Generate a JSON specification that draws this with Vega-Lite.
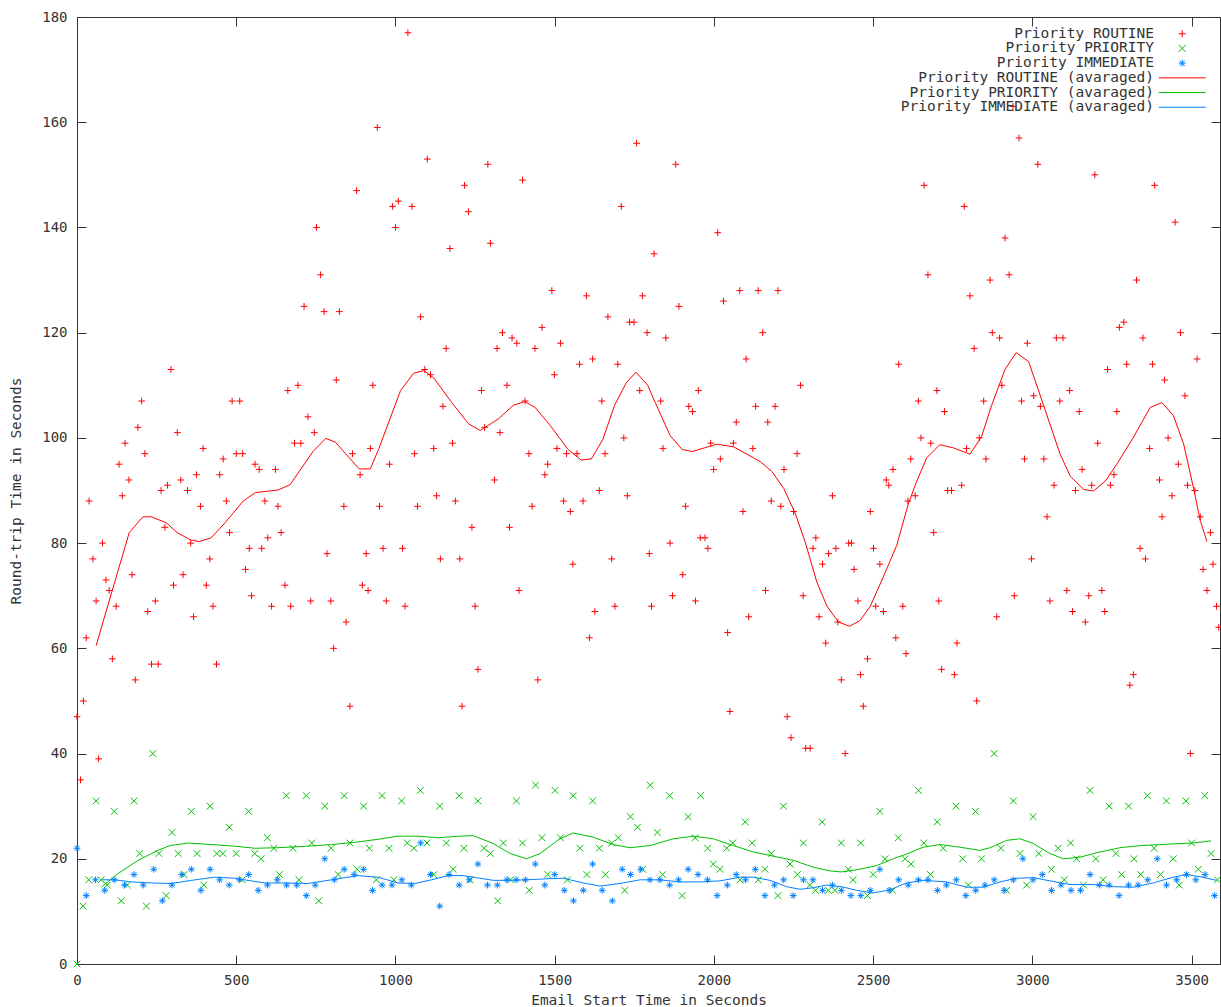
{
"$schema": "https://vega.github.io/schema/vega-lite/v6.json",
"width": 1143, "height": 947,
"autosize": {"type": "none"},
"padding": {"left": 77, "top": 17, "right": 1, "bottom": 43},
"background": "white",
"config": {
  "view": {"stroke": null},
  "font": "DejaVu Sans Mono",
  "axis": {"grid": false, "domainColor": "#333", "tickColor": "#333", "tickSize": -9, "tickWidth": 1, "labelFont": "DejaVu Sans Mono", "labelFontSize": 14, "labelColor": "#333", "titleFont": "DejaVu Sans Mono", "titleFontSize": 14.5, "titleFontWeight": "normal", "titleColor": "#333", "labelFlush": false, "labelOverlap": false, "format": "d"},
  "legend": {"labelFont": "DejaVu Sans Mono", "labelFontSize": 14.5, "labelColor": "#333", "labelAlign": "right", "labelOffset": -35.5, "symbolSize": 49, "symbolStrokeWidth": 1, "rowPadding": -0.3, "padding": 0, "labelLimit": 500}
},
"datasets": {
"routine": [
{"t":0,"rtt":47},{"t":11,"rtt":35},{"t":20,"rtt":50},{"t":29,"rtt":62},{"t":38,"rtt":88},{"t":50,"rtt":77},{"t":60,"rtt":69},{"t":68,"rtt":39},{"t":80,"rtt":80},{"t":91,"rtt":73},{"t":101,"rtt":71},{"t":111,"rtt":58},{"t":123,"rtt":68},{"t":132,"rtt":95},{"t":142,"rtt":89},{"t":151,"rtt":99},{"t":163,"rtt":92},{"t":173,"rtt":74},{"t":183,"rtt":54},{"t":191,"rtt":102},{"t":203,"rtt":107},{"t":213,"rtt":97},{"t":222,"rtt":67},{"t":234,"rtt":57},{"t":246,"rtt":69},{"t":255,"rtt":57},{"t":264,"rtt":90},{"t":276,"rtt":83},{"t":284,"rtt":91},{"t":295,"rtt":113},{"t":303,"rtt":72},{"t":315,"rtt":101},{"t":326,"rtt":92},{"t":333,"rtt":74},{"t":347,"rtt":90},{"t":357,"rtt":80},{"t":366,"rtt":66},{"t":375,"rtt":93},{"t":388,"rtt":87},{"t":396,"rtt":98},{"t":406,"rtt":72},{"t":417,"rtt":77},{"t":427,"rtt":68},{"t":438,"rtt":57},{"t":448,"rtt":93},{"t":459,"rtt":96},{"t":469,"rtt":88},{"t":479,"rtt":82},{"t":487,"rtt":107},{"t":500,"rtt":97},{"t":511,"rtt":107},{"t":520,"rtt":97},{"t":529,"rtt":75},{"t":541,"rtt":79},{"t":548,"rtt":70},{"t":559,"rtt":95},{"t":572,"rtt":94},{"t":580,"rtt":79},{"t":590,"rtt":88},{"t":599,"rtt":81},{"t":611,"rtt":68},{"t":623,"rtt":94},{"t":631,"rtt":87},{"t":641,"rtt":82},{"t":653,"rtt":72},{"t":662,"rtt":109},{"t":671,"rtt":68},{"t":683,"rtt":99},{"t":694,"rtt":110},{"t":703,"rtt":99},{"t":713,"rtt":125},{"t":725,"rtt":104},{"t":734,"rtt":69},{"t":745,"rtt":101},{"t":752,"rtt":140},{"t":765,"rtt":131},{"t":776,"rtt":124},{"t":785,"rtt":78},{"t":797,"rtt":69},{"t":806,"rtt":60},{"t":814,"rtt":111},{"t":824,"rtt":124},{"t":838,"rtt":87},{"t":845,"rtt":65},{"t":857,"rtt":49},{"t":865,"rtt":97},{"t":878,"rtt":147},{"t":889,"rtt":93},{"t":896,"rtt":72},{"t":908,"rtt":78},{"t":914,"rtt":71},{"t":921,"rtt":98},{"t":929,"rtt":110},
{"t":943,"rtt":159},{"t":950,"rtt":87},{"t":961,"rtt":79},{"t":971,"rtt":69},{"t":981,"rtt":95},{"t":991,"rtt":144},{"t":1000,"rtt":140},{"t":1009,"rtt":145},{"t":1022,"rtt":79},{"t":1030,"rtt":68},{"t":1039,"rtt":177},{"t":1052,"rtt":144},{"t":1060,"rtt":97},{"t":1069,"rtt":87},{"t":1079,"rtt":123},{"t":1092,"rtt":113},{"t":1100,"rtt":153},{"t":1110,"rtt":112},{"t":1120,"rtt":98},{"t":1129,"rtt":89},{"t":1141,"rtt":77},{"t":1149,"rtt":106},{"t":1159,"rtt":117},{"t":1171,"rtt":136},{"t":1179,"rtt":99},{"t":1188,"rtt":88},{"t":1202,"rtt":77},{"t":1209,"rtt":49},{"t":1217,"rtt":148},{"t":1229,"rtt":143},{"t":1240,"rtt":83},{"t":1250,"rtt":68},{"t":1259,"rtt":56},{"t":1270,"rtt":109},{"t":1280,"rtt":102},{"t":1290,"rtt":152},{"t":1298,"rtt":137},{"t":1311,"rtt":92},{"t":1319,"rtt":117},{"t":1328,"rtt":101},{"t":1336,"rtt":120},{"t":1350,"rtt":110},{"t":1358,"rtt":83},{"t":1366,"rtt":119},{"t":1381,"rtt":118},{"t":1388,"rtt":71},{"t":1399,"rtt":149},{"t":1407,"rtt":107},{"t":1419,"rtt":97},{"t":1429,"rtt":87},{"t":1438,"rtt":117},{"t":1447,"rtt":54},{"t":1460,"rtt":121},{"t":1469,"rtt":93},{"t":1478,"rtt":95},{"t":1491,"rtt":128},{"t":1499,"rtt":112},{"t":1507,"rtt":98},{"t":1518,"rtt":118},{"t":1528,"rtt":88},{"t":1537,"rtt":97},{"t":1549,"rtt":86},{"t":1557,"rtt":76},{"t":1570,"rtt":97},{"t":1578,"rtt":114},{"t":1589,"rtt":88},{"t":1600,"rtt":127},{"t":1609,"rtt":62},{"t":1619,"rtt":115},{"t":1626,"rtt":67},{"t":1640,"rtt":90},{"t":1648,"rtt":107},{"t":1658,"rtt":97},{"t":1667,"rtt":123},{"t":1679,"rtt":77},{"t":1689,"rtt":68},{"t":1698,"rtt":114},{"t":1709,"rtt":144},{"t":1717,"rtt":100},{"t":1728,"rtt":89},{"t":1735,"rtt":122},{"t":1749,"rtt":122},{"t":1757,"rtt":156},{"t":1767,"rtt":109},{"t":1776,"rtt":127},{"t":1790,"rtt":120},{"t":1797,"rtt":78},{"t":1804,"rtt":68},{"t":1812,"rtt":135},
{"t":1833,"rtt":107},{"t":1840,"rtt":98},{"t":1849,"rtt":119},{"t":1862,"rtt":80},{"t":1870,"rtt":70},{"t":1880,"rtt":152},{"t":1890,"rtt":125},{"t":1902,"rtt":74},{"t":1911,"rtt":87},{"t":1921,"rtt":106},{"t":1933,"rtt":105},{"t":1942,"rtt":69},{"t":1951,"rtt":109},{"t":1957,"rtt":81},{"t":1972,"rtt":81},{"t":1981,"rtt":79},{"t":1990,"rtt":99},{"t":1999,"rtt":94},{"t":2012,"rtt":139},{"t":2020,"rtt":96},{"t":2030,"rtt":126},{"t":2043,"rtt":63},{"t":2050,"rtt":48},{"t":2061,"rtt":99},{"t":2070,"rtt":103},{"t":2081,"rtt":128},{"t":2091,"rtt":86},{"t":2101,"rtt":115},{"t":2109,"rtt":66},{"t":2122,"rtt":98},{"t":2131,"rtt":106},{"t":2139,"rtt":128},{"t":2153,"rtt":120},{"t":2162,"rtt":71},{"t":2169,"rtt":103},{"t":2180,"rtt":88},{"t":2192,"rtt":106},{"t":2201,"rtt":128},{"t":2210,"rtt":87},{"t":2220,"rtt":94},{"t":2230,"rtt":47},{"t":2242,"rtt":43},{"t":2250,"rtt":86},{"t":2261,"rtt":97},{"t":2272,"rtt":110},{"t":2280,"rtt":70},{"t":2288,"rtt":41},{"t":2302,"rtt":41},{"t":2311,"rtt":79},{"t":2320,"rtt":81},{"t":2330,"rtt":66},{"t":2341,"rtt":76},{"t":2351,"rtt":61},{"t":2360,"rtt":78},{"t":2372,"rtt":89},{"t":2383,"rtt":79},{"t":2389,"rtt":65},{"t":2400,"rtt":54},{"t":2412,"rtt":40},{"t":2423,"rtt":80},{"t":2432,"rtt":80},{"t":2440,"rtt":75},{"t":2452,"rtt":69},{"t":2460,"rtt":55},{"t":2469,"rtt":49},{"t":2482,"rtt":58},{"t":2491,"rtt":86},{"t":2501,"rtt":79},{"t":2508,"rtt":68},{"t":2521,"rtt":76},{"t":2532,"rtt":67},{"t":2541,"rtt":92},{"t":2549,"rtt":91},{"t":2562,"rtt":94},{"t":2571,"rtt":62},{"t":2580,"rtt":114},{"t":2593,"rtt":68},{"t":2603,"rtt":59},{"t":2609,"rtt":88},{"t":2618,"rtt":96},{"t":2632,"rtt":89},{"t":2642,"rtt":107},{"t":2650,"rtt":100},{"t":2660,"rtt":148},{"t":2672,"rtt":131},{"t":2681,"rtt":99},{"t":2690,"rtt":82},{"t":2700,"rtt":109},{"t":2706,"rtt":69},
{"t":2715,"rtt":56},{"t":2724,"rtt":105},{"t":2734,"rtt":90},{"t":2746,"rtt":90},{"t":2755,"rtt":55},{"t":2763,"rtt":61},{"t":2778,"rtt":91},{"t":2786,"rtt":144},{"t":2793,"rtt":98},{"t":2804,"rtt":127},{"t":2817,"rtt":117},{"t":2825,"rtt":50},{"t":2833,"rtt":100},{"t":2847,"rtt":107},{"t":2854,"rtt":96},{"t":2867,"rtt":130},{"t":2874,"rtt":120},{"t":2888,"rtt":66},{"t":2897,"rtt":119},{"t":2904,"rtt":110},{"t":2914,"rtt":138},{"t":2927,"rtt":131},{"t":2939,"rtt":163},{"t":2943,"rtt":70},{"t":2958,"rtt":157},{"t":2966,"rtt":107},{"t":2975,"rtt":96},{"t":2984,"rtt":118},{"t":2997,"rtt":77},{"t":3004,"rtt":108},{"t":3017,"rtt":152},{"t":3025,"rtt":106},{"t":3036,"rtt":96},{"t":3046,"rtt":85},{"t":3055,"rtt":69},{"t":3068,"rtt":91},{"t":3075,"rtt":119},{"t":3086,"rtt":107},{"t":3096,"rtt":119},{"t":3108,"rtt":71},{"t":3117,"rtt":109},{"t":3126,"rtt":67},{"t":3135,"rtt":90},{"t":3147,"rtt":105},{"t":3156,"rtt":94},{"t":3166,"rtt":65},{"t":3177,"rtt":70},{"t":3186,"rtt":91},{"t":3196,"rtt":150},{"t":3205,"rtt":99},{"t":3218,"rtt":71},{"t":3227,"rtt":67},{"t":3236,"rtt":113},{"t":3245,"rtt":91},{"t":3256,"rtt":93},{"t":3265,"rtt":105},{"t":3273,"rtt":121},{"t":3287,"rtt":122},{"t":3296,"rtt":114},{"t":3306,"rtt":53},{"t":3317,"rtt":55},{"t":3327,"rtt":130},{"t":3338,"rtt":79},{"t":3347,"rtt":119},{"t":3355,"rtt":77},{"t":3368,"rtt":98},{"t":3377,"rtt":114},{"t":3384,"rtt":148},{"t":3399,"rtt":92},{"t":3407,"rtt":85},{"t":3415,"rtt":111},{"t":3426,"rtt":100},{"t":3438,"rtt":89},{"t":3448,"rtt":141},{"t":3458,"rtt":95},{"t":3465,"rtt":120},{"t":3479,"rtt":108},{"t":3487,"rtt":91},{"t":3496,"rtt":40},{"t":3510,"rtt":90},{"t":3517,"rtt":115},{"t":3527,"rtt":85},{"t":3536,"rtt":75},{"t":3548,"rtt":71},{"t":3559,"rtt":82},{"t":3567,"rtt":76},{"t":3578,"rtt":68},{"t":3585,"rtt":64}
],
"priority": [
{"t":0,"rtt":0},{"t":19,"rtt":11},{"t":37,"rtt":16},{"t":60,"rtt":31},{"t":76,"rtt":16},{"t":95,"rtt":15},{"t":117,"rtt":29},{"t":139,"rtt":12},{"t":158,"rtt":15},{"t":179,"rtt":31},{"t":197,"rtt":21},{"t":218,"rtt":11},{"t":238,"rtt":40},{"t":257,"rtt":21},{"t":280,"rtt":13},{"t":298,"rtt":25},{"t":318,"rtt":21},{"t":336,"rtt":17},{"t":359,"rtt":29},{"t":377,"rtt":21},{"t":398,"rtt":15},{"t":418,"rtt":30},{"t":439,"rtt":21},{"t":458,"rtt":21},{"t":478,"rtt":26},{"t":500,"rtt":21},{"t":519,"rtt":16},{"t":539,"rtt":29},{"t":558,"rtt":21},{"t":578,"rtt":20},{"t":598,"rtt":24},{"t":618,"rtt":22},{"t":636,"rtt":17},{"t":657,"rtt":32},{"t":678,"rtt":22},{"t":697,"rtt":16},{"t":720,"rtt":32},{"t":737,"rtt":23},{"t":759,"rtt":12},{"t":778,"rtt":30},{"t":798,"rtt":22},{"t":820,"rtt":17},{"t":839,"rtt":32},{"t":857,"rtt":23},{"t":880,"rtt":18},{"t":900,"rtt":30},{"t":918,"rtt":22},{"t":940,"rtt":16},{"t":958,"rtt":32},{"t":980,"rtt":22},{"t":995,"rtt":16},{"t":1019,"rtt":31},{"t":1037,"rtt":23},{"t":1058,"rtt":22},{"t":1078,"rtt":33},{"t":1099,"rtt":23},{"t":1120,"rtt":17},{"t":1139,"rtt":30},{"t":1160,"rtt":23},{"t":1181,"rtt":18},{"t":1200,"rtt":32},{"t":1215,"rtt":22},
{"t":1234,"rtt":16},{"t":1259,"rtt":31},{"t":1278,"rtt":22},{"t":1298,"rtt":21},{"t":1321,"rtt":12},{"t":1339,"rtt":23},{"t":1361,"rtt":16},{"t":1380,"rtt":31},{"t":1399,"rtt":23},{"t":1420,"rtt":14},{"t":1440,"rtt":34},{"t":1460,"rtt":24},{"t":1478,"rtt":17},{"t":1501,"rtt":33},{"t":1518,"rtt":24},{"t":1540,"rtt":16},{"t":1558,"rtt":32},{"t":1579,"rtt":22},{"t":1601,"rtt":17},{"t":1619,"rtt":31},{"t":1640,"rtt":22},{"t":1659,"rtt":17},{"t":1679,"rtt":23},{"t":1700,"rtt":24},{"t":1720,"rtt":14},{"t":1738,"rtt":28},{"t":1760,"rtt":26},{"t":1776,"rtt":18},{"t":1800,"rtt":34},{"t":1822,"rtt":25},{"t":1839,"rtt":17},{"t":1861,"rtt":32},{"t":1900,"rtt":13},{"t":1919,"rtt":28},{"t":1941,"rtt":24},{"t":1958,"rtt":32},{"t":1980,"rtt":22},{"t":1998,"rtt":19},{"t":2019,"rtt":18},{"t":2040,"rtt":22},{"t":2059,"rtt":23},{"t":2082,"rtt":16},{"t":2098,"rtt":27},{"t":2120,"rtt":23},{"t":2139,"rtt":16},{"t":2160,"rtt":18},{"t":2180,"rtt":21},{"t":2201,"rtt":13},{"t":2218,"rtt":30},{"t":2239,"rtt":19},{"t":2262,"rtt":17},{"t":2281,"rtt":23},{"t":2301,"rtt":15},{"t":2319,"rtt":14},{"t":2340,"rtt":27},{"t":2359,"rtt":14},{"t":2380,"rtt":14},{"t":2400,"rtt":23},
{"t":2422,"rtt":18},{"t":2437,"rtt":16},{"t":2461,"rtt":23},{"t":2482,"rtt":13},{"t":2500,"rtt":17},{"t":2521,"rtt":29},{"t":2537,"rtt":20},{"t":2561,"rtt":14},{"t":2579,"rtt":24},{"t":2600,"rtt":20},{"t":2619,"rtt":19},{"t":2642,"rtt":33},{"t":2659,"rtt":23},{"t":2680,"rtt":17},{"t":2701,"rtt":27},{"t":2720,"rtt":22},{"t":2760,"rtt":30},{"t":2781,"rtt":20},{"t":2799,"rtt":15},{"t":2821,"rtt":29},{"t":2840,"rtt":20},{"t":2880,"rtt":40},{"t":2901,"rtt":22},{"t":2919,"rtt":14},{"t":2940,"rtt":31},{"t":2961,"rtt":21},{"t":2982,"rtt":15},{"t":3002,"rtt":28},{"t":3020,"rtt":21},{"t":3060,"rtt":18},{"t":3081,"rtt":22},{"t":3100,"rtt":16},{"t":3120,"rtt":23},{"t":3139,"rtt":20},{"t":3160,"rtt":15},{"t":3181,"rtt":33},{"t":3199,"rtt":20},{"t":3222,"rtt":16},{"t":3241,"rtt":30},{"t":3262,"rtt":21},{"t":3280,"rtt":17},{"t":3302,"rtt":30},{"t":3319,"rtt":20},{"t":3340,"rtt":17},{"t":3361,"rtt":32},{"t":3382,"rtt":22},{"t":3402,"rtt":17},{"t":3421,"rtt":31},{"t":3442,"rtt":20},{"t":3461,"rtt":15},{"t":3482,"rtt":31},{"t":3500,"rtt":23},{"t":3521,"rtt":18},{"t":3541,"rtt":32},{"t":3561,"rtt":21},{"t":3581,"rtt":16}
],
"immediate": [
{"t":0,"rtt":22},{"t":29,"rtt":13},{"t":58,"rtt":16},{"t":87,"rtt":14},{"t":117,"rtt":16},{"t":149,"rtt":15},{"t":179,"rtt":17},{"t":208,"rtt":15},{"t":241,"rtt":18},{"t":268,"rtt":12},{"t":298,"rtt":15},{"t":329,"rtt":17},{"t":359,"rtt":18},{"t":389,"rtt":14},{"t":418,"rtt":18},{"t":448,"rtt":16},{"t":478,"rtt":15},{"t":510,"rtt":16},{"t":539,"rtt":17},{"t":569,"rtt":14},{"t":598,"rtt":15},{"t":629,"rtt":16},{"t":658,"rtt":15},{"t":690,"rtt":15},{"t":720,"rtt":13},{"t":748,"rtt":15},{"t":778,"rtt":20},{"t":808,"rtt":16},{"t":839,"rtt":18},{"t":870,"rtt":17},{"t":900,"rtt":18},{"t":928,"rtt":14},{"t":958,"rtt":15},{"t":989,"rtt":15},{"t":1020,"rtt":16},{"t":1050,"rtt":15},{"t":1079,"rtt":23},{"t":1110,"rtt":17},{"t":1139,"rtt":11},{"t":1168,"rtt":17},{"t":1200,"rtt":15},
{"t":1231,"rtt":16},{"t":1259,"rtt":19},{"t":1289,"rtt":15},{"t":1320,"rtt":15},{"t":1350,"rtt":16},{"t":1379,"rtt":16},{"t":1408,"rtt":16},{"t":1439,"rtt":19},{"t":1469,"rtt":15},{"t":1500,"rtt":17},{"t":1530,"rtt":14},{"t":1559,"rtt":12},{"t":1590,"rtt":14},{"t":1619,"rtt":19},{"t":1649,"rtt":14},{"t":1681,"rtt":12},{"t":1712,"rtt":18},{"t":1738,"rtt":17},{"t":1770,"rtt":18},{"t":1799,"rtt":16},{"t":1830,"rtt":16},{"t":1861,"rtt":15},{"t":1889,"rtt":16},{"t":1919,"rtt":18},{"t":1950,"rtt":17},{"t":1980,"rtt":16},{"t":2010,"rtt":13},{"t":2042,"rtt":15},{"t":2070,"rtt":17},{"t":2099,"rtt":16},{"t":2130,"rtt":18},{"t":2160,"rtt":13},{"t":2190,"rtt":15},{"t":2219,"rtt":16},{"t":2249,"rtt":13},{"t":2281,"rtt":16},{"t":2311,"rtt":16},{"t":2341,"rtt":14},{"t":2372,"rtt":15},{"t":2400,"rtt":14},
{"t":2430,"rtt":13},{"t":2461,"rtt":13},{"t":2491,"rtt":14},{"t":2521,"rtt":18},{"t":2550,"rtt":14},{"t":2580,"rtt":16},{"t":2610,"rtt":15},{"t":2642,"rtt":16},{"t":2672,"rtt":16},{"t":2702,"rtt":14},{"t":2730,"rtt":15},{"t":2761,"rtt":16},{"t":2791,"rtt":13},{"t":2822,"rtt":14},{"t":2851,"rtt":15},{"t":2880,"rtt":16},{"t":2911,"rtt":14},{"t":2940,"rtt":16},{"t":2970,"rtt":20},{"t":3002,"rtt":16},{"t":3031,"rtt":17},{"t":3060,"rtt":14},{"t":3090,"rtt":15},{"t":3121,"rtt":14},{"t":3151,"rtt":14},{"t":3181,"rtt":17},{"t":3210,"rtt":15},{"t":3241,"rtt":15},{"t":3272,"rtt":13},{"t":3302,"rtt":15},{"t":3332,"rtt":15},{"t":3362,"rtt":16},{"t":3392,"rtt":20},{"t":3421,"rtt":15},{"t":3453,"rtt":16},{"t":3484,"rtt":17},{"t":3513,"rtt":16},{"t":3542,"rtt":17},{"t":3572,"rtt":13}
],
"routine_avg": [
{"t":60,"rtt":60.5},{"t":164,"rtt":82},{"t":207,"rtt":85},{"t":234,"rtt":85},{"t":282,"rtt":83.8},{"t":314,"rtt":82},{"t":357,"rtt":80.6},{"t":384,"rtt":80.3},{"t":421,"rtt":81},{"t":464,"rtt":83.8},{"t":522,"rtt":88},{"t":560,"rtt":89.6},{"t":632,"rtt":90.1},{"t":669,"rtt":91.1},{"t":741,"rtt":97.4},{"t":781,"rtt":99.9},{"t":811,"rtt":99.2},{"t":886,"rtt":94.1},{"t":921,"rtt":94.1},{"t":948,"rtt":98},{"t":1016,"rtt":109},{"t":1057,"rtt":112.3},{"t":1089,"rtt":112.8},{"t":1120,"rtt":111.4},{"t":1177,"rtt":106.7},{"t":1229,"rtt":102.7},{"t":1266,"rtt":101.4},{"t":1323,"rtt":103.6},{"t":1370,"rtt":106.2},{"t":1406,"rtt":106.9},{"t":1438,"rtt":105.8},{"t":1484,"rtt":102.5},{"t":1542,"rtt":97.8},{"t":1583,"rtt":95.8},{"t":1615,"rtt":96},{"t":1651,"rtt":99.7},{"t":1688,"rtt":106.2},{"t":1724,"rtt":110.4},{"t":1755,"rtt":112.5},{"t":1792,"rtt":110},{"t":1812,"rtt":107.2},{"t":1863,"rtt":100.4},{"t":1900,"rtt":97.8},{"t":1931,"rtt":97.4},{"t":2009,"rtt":98.8},{"t":2062,"rtt":98.3},{"t":2145,"rtt":95.5},{"t":2182,"rtt":93.6},{"t":2219,"rtt":90.4},{"t":2255,"rtt":85.7},{"t":2287,"rtt":80.1},{"t":2323,"rtt":72.6},{"t":2355,"rtt":68},{"t":2391,"rtt":65},{"t":2426,"rtt":64.2},{"t":2459,"rtt":65.3},{"t":2491,"rtt":68},{"t":2532,"rtt":73.6},{"t":2574,"rtt":79.6},{"t":2611,"rtt":87.6},{"t":2637,"rtt":91.8},{"t":2668,"rtt":96.2},{"t":2709,"rtt":98.7},{"t":2752,"rtt":98.1},{"t":2804,"rtt":96.9},{"t":2840,"rtt":100.2},{"t":2872,"rtt":106.2},{"t":2914,"rtt":113},{"t":2949,"rtt":116.2},{"t":2988,"rtt":114.5},{"t":3035,"rtt":106.2},{"t":3087,"rtt":96.9},{"t":3119,"rtt":92.7},{"t":3161,"rtt":90.2},{"t":3192,"rtt":89.9},{"t":3229,"rtt":91.8},{"t":3265,"rtt":95},{"t":3318,"rtt":100.2},{"t":3370,"rtt":105.8},{"t":3407,"rtt":106.7},{"t":3443,"rtt":104.2},{"t":3475,"rtt":98.8},{"t":3506,"rtt":90.4},{"t":3527,"rtt":84.3},{"t":3548,"rtt":80.3}
],
"priority_avg": [
{"t":76,"rtt":14.6},{"t":129,"rtt":17.2},{"t":192,"rtt":19.7},{"t":254,"rtt":21.6},{"t":291,"rtt":22.5},{"t":349,"rtt":23},{"t":422,"rtt":22.7},{"t":495,"rtt":22.4},{"t":558,"rtt":22},{"t":631,"rtt":22.1},{"t":725,"rtt":22.4},{"t":799,"rtt":22.7},{"t":882,"rtt":23.2},{"t":945,"rtt":23.7},{"t":1008,"rtt":24.3},{"t":1071,"rtt":24.3},{"t":1134,"rtt":24},{"t":1202,"rtt":24.3},{"t":1244,"rtt":24.4},{"t":1307,"rtt":22.9},{"t":1360,"rtt":21},{"t":1412,"rtt":20},{"t":1454,"rtt":21},{"t":1516,"rtt":23.8},{"t":1558,"rtt":24.9},{"t":1621,"rtt":24.1},{"t":1684,"rtt":22.7},{"t":1736,"rtt":22.1},{"t":1799,"rtt":22.5},{"t":1872,"rtt":23.8},{"t":1935,"rtt":24.3},{"t":1998,"rtt":23.8},{"t":2061,"rtt":22.5},{"t":2124,"rtt":21.3},{"t":2186,"rtt":20.5},{"t":2249,"rtt":19.7},{"t":2312,"rtt":18.4},{"t":2364,"rtt":17.7},{"t":2400,"rtt":17.5},{"t":2448,"rtt":17.9},{"t":2511,"rtt":18.7},{"t":2563,"rtt":20},{"t":2605,"rtt":20.9},{"t":2657,"rtt":22.2},{"t":2710,"rtt":22.7},{"t":2772,"rtt":22.2},{"t":2835,"rtt":21.6},{"t":2867,"rtt":22.1},{"t":2919,"rtt":23.5},{"t":2961,"rtt":23.8},{"t":3003,"rtt":22.9},{"t":3055,"rtt":21},{"t":3097,"rtt":20},{"t":3149,"rtt":20.3},{"t":3212,"rtt":21.3},{"t":3275,"rtt":22.1},{"t":3338,"rtt":22.5},{"t":3400,"rtt":22.7},{"t":3463,"rtt":22.9},{"t":3505,"rtt":23},{"t":3561,"rtt":23.4}
],
"immediate_avg": [
{"t":76,"rtt":16},{"t":118,"rtt":16},{"t":171,"rtt":15.6},{"t":233,"rtt":15.4},{"t":296,"rtt":15.3},{"t":359,"rtt":15.9},{"t":432,"rtt":16.5},{"t":495,"rtt":16.3},{"t":537,"rtt":15.9},{"t":589,"rtt":15.4},{"t":652,"rtt":15.4},{"t":725,"rtt":15.3},{"t":799,"rtt":16},{"t":882,"rtt":16.8},{"t":945,"rtt":16.5},{"t":1008,"rtt":15.4},{"t":1060,"rtt":15.3},{"t":1113,"rtt":16},{"t":1165,"rtt":16.8},{"t":1212,"rtt":16.8},{"t":1255,"rtt":16.4},{"t":1307,"rtt":15.9},{"t":1359,"rtt":15.9},{"t":1412,"rtt":16},{"t":1475,"rtt":16.2},{"t":1527,"rtt":16.3},{"t":1590,"rtt":15.4},{"t":1642,"rtt":14.8},{"t":1705,"rtt":15.3},{"t":1768,"rtt":16},{"t":1830,"rtt":16},{"t":1893,"rtt":15.6},{"t":1956,"rtt":15.6},{"t":2019,"rtt":15.8},{"t":2082,"rtt":16.5},{"t":2124,"rtt":16.5},{"t":2176,"rtt":15.9},{"t":2228,"rtt":14.7},{"t":2270,"rtt":14.2},{"t":2312,"rtt":14.5},{"t":2354,"rtt":15},{"t":2400,"rtt":14.7},{"t":2448,"rtt":14},{"t":2500,"rtt":13.5},{"t":2553,"rtt":14.1},{"t":2605,"rtt":15.4},{"t":2657,"rtt":15.9},{"t":2731,"rtt":15.6},{"t":2793,"rtt":14.6},{"t":2846,"rtt":14.6},{"t":2898,"rtt":15.6},{"t":2950,"rtt":16.3},{"t":3003,"rtt":16.4},{"t":3055,"rtt":15.8},{"t":3118,"rtt":15.1},{"t":3191,"rtt":15.1},{"t":3254,"rtt":14.7},{"t":3317,"rtt":14.6},{"t":3379,"rtt":15.4},{"t":3442,"rtt":16.5},{"t":3484,"rtt":17},{"t":3526,"rtt":16.6},{"t":3578,"rtt":15.9}
]
},
"layer": [
{"data": {"name": "routine"},
 "mark": {"type": "point", "filled": false, "strokeWidth": 1, "size": 45, "opacity": 1},
 "encoding": {
  "x": {"field": "t", "type": "quantitative", "scale": {"domain": [0, 3589], "nice": false, "zero": false},
        "axis": {"orient": "bottom", "values": [0,500,1000,1500,2000,2500,3000,3500], "format": "d", "title": "Email Start Time in Seconds", "labelPadding": 18, "titlePadding": 6}},
  "y": {"field": "rtt", "type": "quantitative", "scale": {"domain": [0, 180], "nice": false, "zero": false},
        "axis": {"orient": "left", "values": [0,20,40,60,80,100,120,140,160,180], "format": "d", "title": "Round-trip Time in Seconds", "labelPadding": 19, "titlePadding": 18}},
  "color": {"datum": "Priority ROUTINE", "type": "nominal",
            "scale": {"domain": ["Priority ROUTINE","Priority PRIORITY","Priority IMMEDIATE","Priority ROUTINE (avaraged)","Priority PRIORITY (avaraged)","Priority IMMEDIATE (avaraged)"],
                      "range": ["#ff0000","#00c000","#0080ff","#ff0000","#00c000","#0080ff"]},
            "legend": {"title": null, "orient": "none", "legendX": 1098, "legendY": 9.5}},
  "shape": {"datum": "Priority ROUTINE", "type": "nominal",
            "scale": {"domain": ["Priority ROUTINE","Priority PRIORITY","Priority IMMEDIATE","Priority ROUTINE (avaraged)","Priority PRIORITY (avaraged)","Priority IMMEDIATE (avaraged)"],
                      "range": ["M-1,0H1M0,-1V1","M-1,-1L1,1M-1,1L1,-1","M-1,0H1M0,-1V1M-0.72,-0.72L0.72,0.72M-0.72,0.72L0.72,-0.72","M-6.7,0H6.7","M-6.7,0H6.7","M-6.7,0H6.7"]},
            "legend": {"title": null, "orient": "none", "legendX": 1098, "legendY": 9.5}}
 }},
{"data": {"name": "priority"},
 "mark": {"type": "point", "filled": false, "strokeWidth": 1, "size": 45, "opacity": 1},
 "encoding": {
  "x": {"field": "t", "type": "quantitative", "axis": null},
  "y": {"field": "rtt", "type": "quantitative", "axis": null},
  "color": {"datum": "Priority PRIORITY", "type": "nominal"},
  "shape": {"datum": "Priority PRIORITY", "type": "nominal"}
 }},
{"data": {"name": "immediate"},
 "mark": {"type": "point", "filled": false, "strokeWidth": 1, "size": 45, "opacity": 1},
 "encoding": {
  "x": {"field": "t", "type": "quantitative", "axis": null},
  "y": {"field": "rtt", "type": "quantitative", "axis": null},
  "color": {"datum": "Priority IMMEDIATE", "type": "nominal"},
  "shape": {"datum": "Priority IMMEDIATE", "type": "nominal"}
 }},
{"data": {"name": "routine_avg"},
 "mark": {"type": "line", "strokeWidth": 1},
 "encoding": {
  "x": {"field": "t", "type": "quantitative", "axis": {"orient": "top", "values": [0,500,1000,1500,2000,2500,3000,3500], "labels": false, "title": null}},
  "y": {"field": "rtt", "type": "quantitative", "axis": {"orient": "right", "values": [0,20,40,60,80,100,120,140,160,180], "labels": false, "title": null}},
  "color": {"datum": "Priority ROUTINE (avaraged)", "type": "nominal"}
 }},
{"data": {"name": "priority_avg"},
 "mark": {"type": "line", "strokeWidth": 1},
 "encoding": {
  "x": {"field": "t", "type": "quantitative", "axis": null},
  "y": {"field": "rtt", "type": "quantitative", "axis": null},
  "color": {"datum": "Priority PRIORITY (avaraged)", "type": "nominal"}
 }},
{"data": {"name": "immediate_avg"},
 "mark": {"type": "line", "strokeWidth": 1},
 "encoding": {
  "x": {"field": "t", "type": "quantitative", "axis": null},
  "y": {"field": "rtt", "type": "quantitative", "axis": null},
  "color": {"datum": "Priority IMMEDIATE (avaraged)", "type": "nominal"}
 }}
],
"resolve": {"axis": {"x": "independent", "y": "independent"}}
}
